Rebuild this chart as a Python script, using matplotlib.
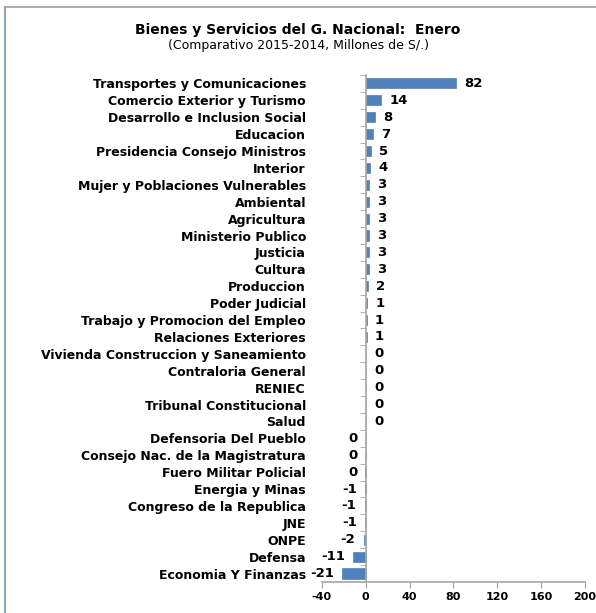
import numpy as np
import matplotlib.pyplot as plt
from matplotlib.lines import Line2D

# --------------------------------------------------------------------------------------------
# Data (millions of S/.)
categories = ['Transportes y Comunicaciones', 'Comercio Exterior y Turismo',
              'Desarrollo e Inclusion Social', 'Educacion', 'Presidencia Consejo Ministros',
              'Interior', 'Mujer y Poblaciones Vulnerables', 'Ambiental', 'Agricultura',
              'Ministerio Publico', 'Justicia', 'Cultura', 'Produccion', 'Poder Judicial',
              'Trabajo y Promocion del Empleo', 'Relaciones Exteriores',
              'Vivienda Construccion y Saneamiento', 'Contraloria General', 'RENIEC',
              'Tribunal Constitucional', 'Salud', 'Defensoria Del Pueblo',
              'Consejo Nac. de la Magistratura', 'Fuero Militar Policial', 'Energia y Minas',
              'Congreso de la Republica', 'JNE', 'ONPE', 'Defensa', 'Economia Y Finanzas']
values = [82.3, 14.2, 8.1, 6.9, 4.8, 3.6, 2.8, 2.7, 2.7, 2.6, 2.6, 2.6, 2.1, 1.2,
          0.9, 0.8, 0.3, 0.2, 0.1, 0.1, 0.1, -0.1, -0.1, -0.2, -0.6, -0.8, -0.7,
          -1.8, -11.3, -21.2]
xticks = [-40, 0, 40, 80, 120, 160, 200]
title = 'Bienes y Servicios del G. Nacional:  Enero'
subtitle = '(Comparativo 2015-2014, Millones de S/.)'
# --------------------------------------------------------------------------------------------

bar_color = '#4F81BD'
axis_color = '#A6A6A6'

fig = plt.figure(figsize=(5.96, 6.13), dpi=100)
ax = fig.add_axes([0.540, 0.0506, 0.4415, 0.8271])

# spines first: moving a spine resets the axis ticks
for s in ['top', 'right']:
    ax.spines[s].set_visible(False)
ax.spines['left'].set_position(('data', 0))
ax.spines['left'].set_color(axis_color)
ax.spines['bottom'].set_color(axis_color)
ax.spines['left'].set_linewidth(1.2)
ax.spines['bottom'].set_linewidth(1.2)

n = len(categories)
pos = np.arange(n)
ax.barh(pos, values, height=0.6, color=bar_color, edgecolor='#3E6FA8', linewidth=0.4)
ax.set_ylim(n - 0.5, -0.5)
ax.set_xlim(xticks[0], xticks[-1])

# value labels just outside the bar ends
for p, v in zip(pos, values):
    lab = str(int(round(v)))
    if v >= 0:
        ax.annotate(lab, (v, p), xytext=(6, 0), textcoords='offset points',
                    ha='left', va='center', fontsize=9.5, fontweight='bold')
    else:
        ax.annotate(lab, (v, p), xytext=(-6, 0), textcoords='offset points',
                    ha='right', va='center', fontsize=9.5, fontweight='bold')

ax.set_yticks(pos)
ax.tick_params(axis='y', which='major', length=0, pad=43)
ax.set_yticks(np.arange(n + 1) - 0.5, minor=True)
ax.tick_params(axis='y', which='minor', length=4, color=axis_color, direction='out')
ax.set_yticklabels(categories, fontsize=9, fontweight='bold')

ax.set_xticks(xticks)
ax.tick_params(axis='x', length=4, color=axis_color, direction='out', pad=3)
ax.set_xticklabels([str(t) for t in xticks], fontsize=8, fontweight='bold')

fig.text(0.5, 1 - 30/613, title, ha='center', va='center', fontsize=10, fontweight='bold')
fig.text(0.5, 1 - 46/613, subtitle, ha='center', va='center', fontsize=9)

# chart frame (only left and top edges visible in the reference)
fig.add_artist(Line2D([5/596, 5/596], [0, 1 - 7/613], color='#8EA3BF', lw=1.5))
fig.add_artist(Line2D([5/596, 1], [1 - 7/613, 1 - 7/613], color='#A0A0A0', lw=1.2))

fig.savefig('out.png', dpi=100)
